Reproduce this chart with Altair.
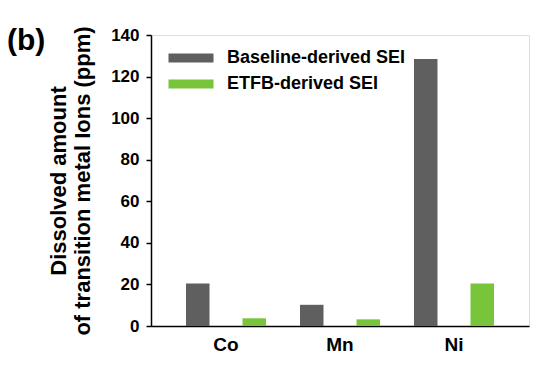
import altair as alt
import pandas as pd

metals = ["Co", "Mn", "Ni"]
series = ["Baseline-derived SEI", "ETFB-derived SEI"]
baseline_vals = [20.5, 10.2, 128.5]
etfb_vals = [3.7, 3.2, 20.5]
colors = ["#5f5f5f", "#78c43a"]
y_ticks = [0, 20, 40, 60, 80, 100, 120, 140]

rows = []
for m, b, e in zip(metals, baseline_vals, etfb_vals):
    rows.append({"metal": m, "series": series[0], "value": b})
    rows.append({"metal": m, "series": series[1], "value": e})
df = pd.DataFrame(rows)

FONT = "Liberation Sans"

bars = alt.Chart(df).mark_bar().encode(
    x=alt.X("metal:N", sort=metals,
            scale=alt.Scale(paddingInner=0.298, paddingOuter=0.307),
            axis=alt.Axis(title=None, labelAngle=0, ticks=False, tickSize=0,
                          labelFont=FONT, labelFontSize=19, labelFontWeight="bold",
                          labelColor="black", labelPadding=9,
                          domainColor="black", domainWidth=1.5)),
    xOffset=alt.XOffset("series:N", sort=series,
                        scale=alt.Scale(paddingInner=0.584, paddingOuter=0)),
    y=alt.Y("value:Q",
            scale=alt.Scale(domain=[0, 140], nice=False),
            axis=alt.Axis(values=y_ticks, grid=False, tickSize=5, tickColor="black",
                          tickWidth=1.5, domainColor="black", domainWidth=1.5,
                          labelFont=FONT, labelFontSize=17, labelFontWeight="bold",
                          labelColor="black", labelPadding=7,
                          title=["Dissolved amount", "of transition metal Ions (ppm)"],
                          titleFont=FONT, titleFontSize=22, titleFontWeight="bold",
                          titleColor="black", titleAngle=-90, titleAlign="center",
                          titleBaseline="alphabetic", titleLineHeight=24,
                          titleX=-86, titleY=145.5)),
    color=alt.Color("series:N", sort=series,
                    scale=alt.Scale(domain=series, range=colors),
                    legend=alt.Legend(title=None, orient="none", legendX=13, legendY=14,
                                      symbolType="M-1,-1H9V1H-1Z", symbolSize=81,
                                      symbolStrokeWidth=0, symbolOpacity=1,
                                      labelOffset=45, rowPadding=8, padding=0,
                                      labelFont=FONT, labelFontSize=18,
                                      labelFontWeight="bold", labelColor="black",
                                      labelLimit=400)),
)

label_df = pd.DataFrame({"t": ["(b)"]})
panel = alt.Chart(label_df).mark_text(
    font=FONT, fontSize=30, fontWeight="bold", align="left", baseline="alphabetic",
    color="black"
).encode(text="t:N", x=alt.value(-144), y=alt.value(15))

chart = alt.layer(bars, panel).properties(
    width=378, height=291,
    autosize=alt.AutoSizeParams(type="none"),
    padding={"left": 151, "top": 35, "right": 21, "bottom": 43},
).configure_view(stroke="black", strokeWidth=1.5).configure(background="white")

chart.save("out.html", embed_options={"renderer": "svg", "actions": False})
